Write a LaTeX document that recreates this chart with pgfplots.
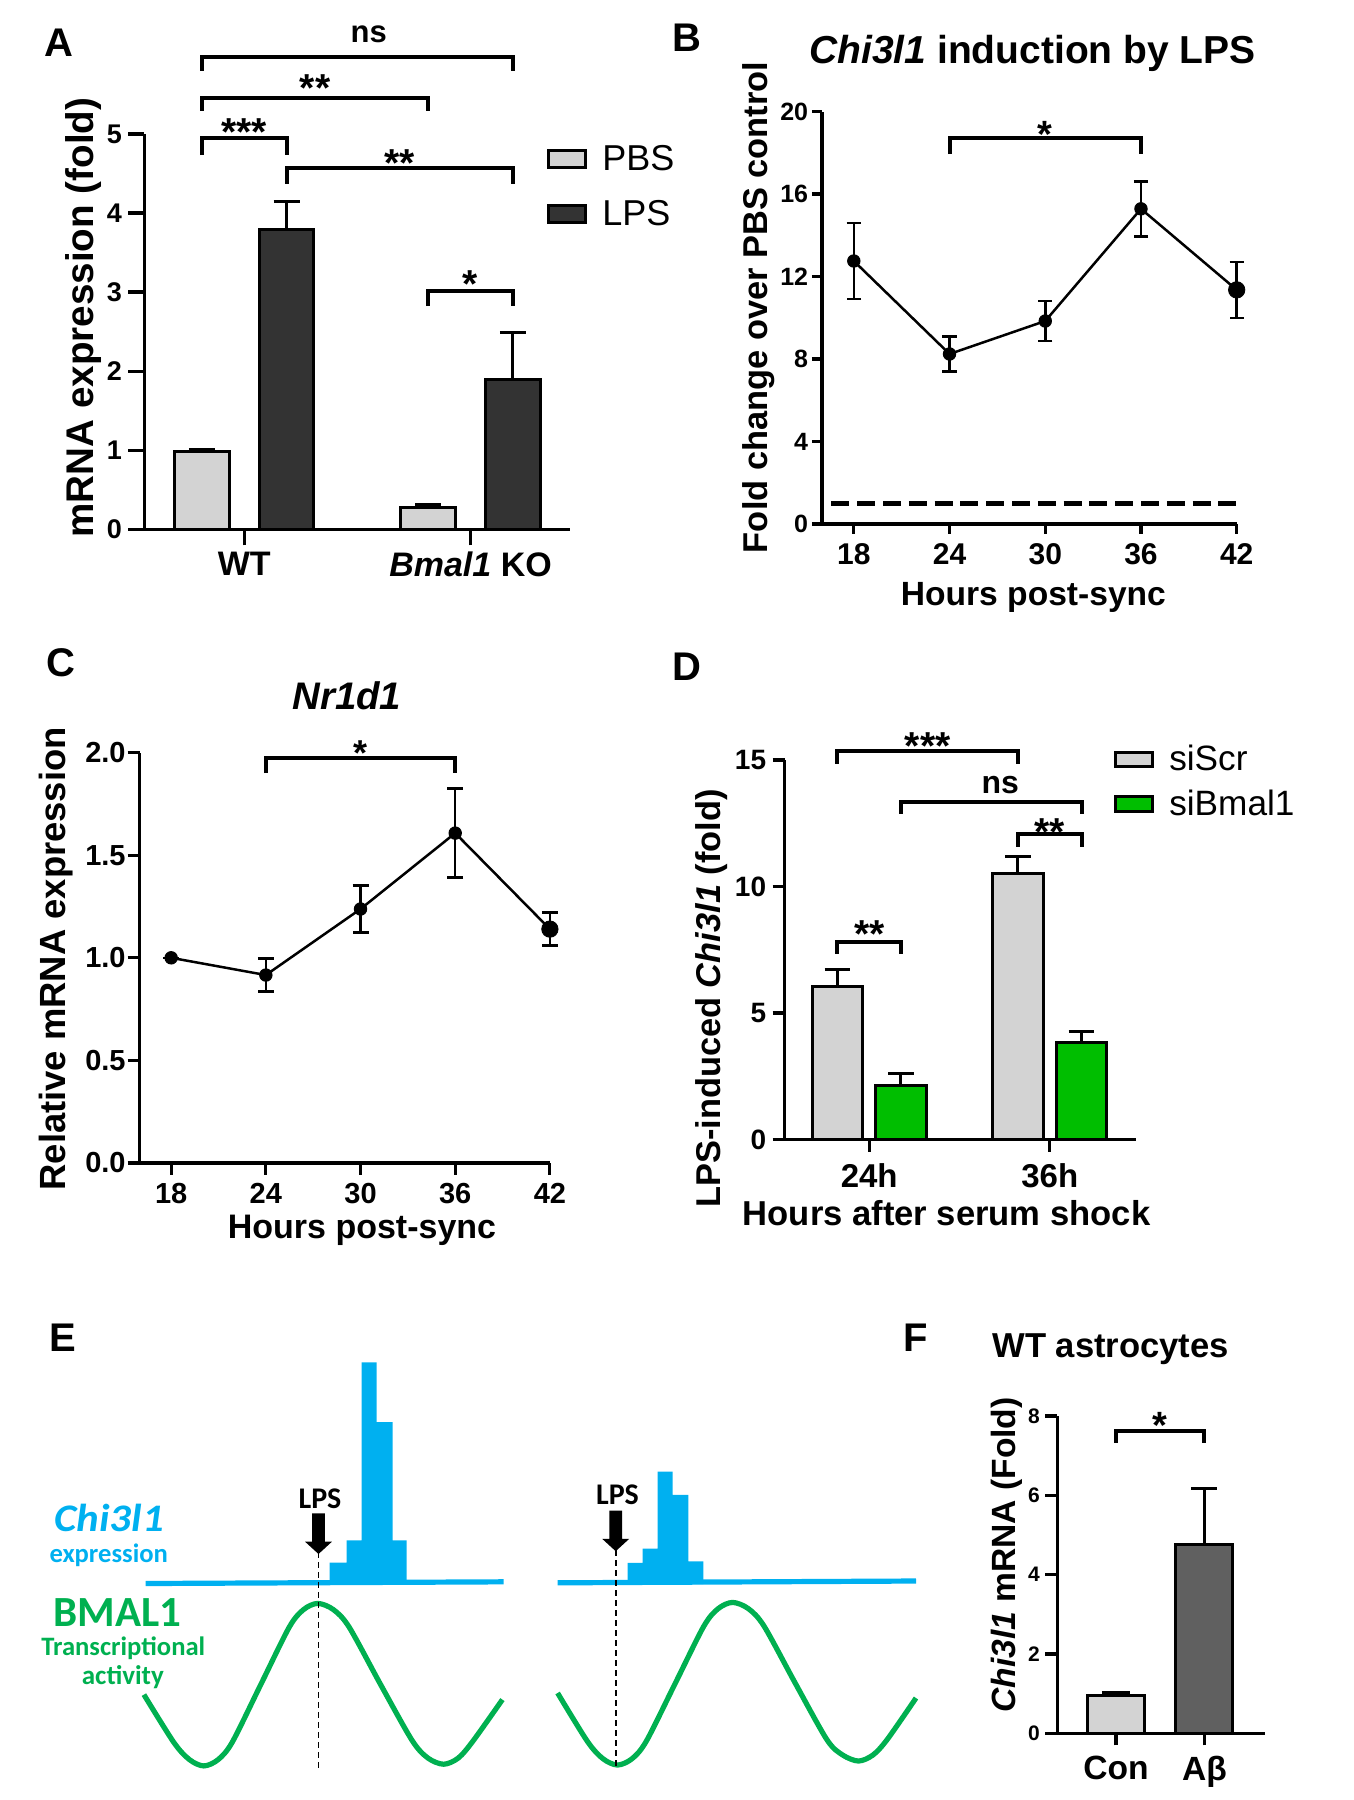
\documentclass[border=0pt]{standalone}
\usepackage{fontspec}
\setmainfont{Liberation Sans}
\newfontfamily\carlito{Carlito}
\newfontfamily\carlitoI[FakeStretch=1.1]{Carlito}
\usepackage{pgfplots}
\pgfplotsset{compat=1.18}

\definecolor{lgray}{RGB}{211,211,211}
\definecolor{dgray}{RGB}{51,51,51}
\definecolor{mgray}{RGB}{96,96,96}
\definecolor{dgreen}{RGB}{0,190,0}
\definecolor{eblue}{RGB}{0,176,240}
\definecolor{egreen}{RGB}{0,176,80}

\newcommand{\fs}[1]{\fontsize{#1}{#1}\selectfont}

\pgfplotsset{
  prism/.style={
    scale only axis, clip=false, anchor=south west,
    axis x line*=bottom, axis y line*=left,
    axis line style={line width=1.6pt},
    tick style={line width=1.6pt, black},
    tick align=outside,
    minor tick num=0,
    /pgf/number format/assume math mode=true,
  },
}
\tikzset{bracket/.style={line width=2pt, line join=miter, line cap=butt}}

\begin{document}
\begin{tikzpicture}[x=0.5pt,y=-0.5pt]
\useasboundingbox (0,0) rectangle (1354,1800);

% ---------------- Panel A ----------------
\begin{axis}[prism, at={(72.2pt,-264.65pt)}, width=212.95pt, height=197.7pt,
  xmin=-0.4417, xmax=1.441, ymin=0, ymax=5,
  xtick={0,1}, xticklabels={WT,\textit{Bmal1} KO},
  ytick={0,1,2,3,4,5},
  major tick length=8pt,
  xticklabel style={font=\bfseries\fs{17}, inner sep=3pt, anchor=north},
  yticklabel style={font=\bfseries\fs{13.5}, inner sep=3pt, anchor=east},
  legend image code/.code={\draw[#1,line width=1.5pt] (0pt,-4.25pt) rectangle (18.5pt,4.25pt);},
  ybar legend/.style={legend image code/.code={\draw[##1,line width=1.5pt] (0pt,-4.25pt) rectangle (18.5pt,4.25pt);}},
  legend cell align=left,
  legend style={at={(0.9446,0.972)}, anchor=north west, draw=none, fill=none, inner sep=0pt,
    row sep=13.2pt, column sep=7.6pt, font=\fs{18}, nodes={inner sep=0pt}},
]
\addplot[ybar, bar shift=0pt, bar width=0.241, fill=lgray, draw=black, line width=1.5pt,
  error bars/.cd, y dir=plus, y explicit, error bar style={line width=1.5pt},
  error mark options={rotate=90, line width=1.5pt, mark size=6.5pt}]
  coordinates {(-0.1875,0.98) +- (0,0.03) (0.8125,0.27) +- (0,0.04)};
\addplot[ybar, bar shift=0pt, bar width=0.241, fill=dgray, draw=black, line width=1.5pt,
  error bars/.cd, y dir=plus, y explicit, error bar style={line width=1.5pt},
  error mark options={rotate=90, line width=1.5pt, mark size=6.5pt}]
  coordinates {(0.1875,3.79) +- (0,0.35) (1.1875,1.89) +- (0,0.60)};
\legend{PBS,LPS}
\draw[bracket] (axis cs:-0.1875,5.798) -- (axis cs:-0.1875,5.967) -- (axis cs:1.1875,5.967) -- (axis cs:1.1875,5.798);
\draw[bracket] (axis cs:-0.1875,5.290) -- (axis cs:-0.1875,5.459) -- (axis cs:0.8125,5.459) -- (axis cs:0.8125,5.290);
\draw[bracket] (axis cs:-0.1875,4.733) -- (axis cs:-0.1875,4.951) -- (axis cs:0.1875,4.951) -- (axis cs:0.1875,4.733);
\draw[bracket] (axis cs:0.1875,4.370) -- (axis cs:0.1875,4.564) -- (axis cs:1.1875,4.564) -- (axis cs:1.1875,4.370);
\draw[bracket] (axis cs:0.8125,2.821) -- (axis cs:0.8125,3.015) -- (axis cs:1.1875,3.015) -- (axis cs:1.1875,2.821);
\node[anchor=base, inner sep=0pt, font=\bfseries\fs{15.5}] at (axis cs:0.55,6.161) {ns};
\node[anchor=north, inner sep=0pt, font=\bfseries\fs{19.5}] at (axis cs:0.3125,5.750) {**};
\node[anchor=north, inner sep=0pt, font=\bfseries\fs{19.5}] at (axis cs:0,5.193) {***};
\node[anchor=north, inner sep=0pt, font=\bfseries\fs{19.5}] at (axis cs:0.6875,4.805) {**};
\node[anchor=north, inner sep=0pt, font=\bfseries\fs{19.5}] at (axis cs:1.0,3.281) {*};
\end{axis}

% ---------------- Panel B ----------------
\begin{axis}[prism, at={(410.95pt,-261.95pt)}, width=207.4pt, height=206.2pt,
  xmin=16, xmax=42, ymin=0, ymax=20,
  xtick={18,24,30,36,42}, ytick={0,4,8,12,16,20},
  major tick length=5pt,
  xticklabel style={font=\bfseries\fs{15}, inner sep=4.5pt, anchor=north},
  yticklabel style={font=\bfseries\fs{12.5}, inner sep=1.7pt, anchor=east},
]
\addplot[black, line width=2.5pt, dash pattern=on 9pt off 3.9pt] coordinates {(16.6,1) (42,1)};
\addplot[black, line width=1.25pt, mark=*, mark size=3.1pt, mark options={solid, line width=0.5pt},
  error bars/.cd, y dir=both, y explicit, error bar style={line width=1.25pt},
  error mark options={rotate=90, line width=1.25pt, mark size=3.6pt}]
  coordinates {(18,12.75) +- (0,1.85) (24,8.24) +- (0,0.85) (30,9.84) +- (0,0.96) (36,15.28) +- (0,1.33) (42,11.35) +- (0,1.36)};
\addplot[black, only marks, mark=*, mark size=4.1pt] coordinates {(42,11.35)};
\draw[bracket] (axis cs:24,17.93) -- (axis cs:24,18.70) -- (axis cs:36,18.70) -- (axis cs:36,17.93);
\node[anchor=north, inner sep=0pt, font=\bfseries\fs{19}] at (axis cs:30,19.56) {*};
\end{axis}

% ---------------- Panel C ----------------
\begin{axis}[prism, at={(69.8pt,-581.45pt)}, width=205.15pt, height=205.1pt,
  xmin=16, xmax=42, ymin=0, ymax=2,
  xtick={18,24,30,36,42}, ytick={0,0.5,1,1.5,2},
  major tick length=6pt,
  xticklabel style={font=\bfseries\fs{14.5}, inner sep=4pt, anchor=north},
  yticklabel style={font=\bfseries\fs{14.5}, inner sep=0.8pt, anchor=east,
    /pgf/number format/.cd, fixed, fixed zerofill, precision=1},
]
\addplot[black, line width=1.25pt, mark=*, mark size=3.1pt, mark options={solid, line width=0.5pt},
  error bars/.cd, y dir=both, y explicit, error bar style={line width=1.25pt},
  error mark options={rotate=90, line width=1.25pt, mark size=4pt}]
  coordinates {(18,1.0) +- (0,0) (24,0.916) +- (0,0.08) (30,1.238) +- (0,0.115) (36,1.608) +- (0,0.217) (42,1.14) +- (0,0.08)};
\addplot[black, only marks, mark=*, mark size=4.1pt] coordinates {(42,1.14)};
\draw[bracket] (axis cs:24,1.901) -- (axis cs:24,1.974) -- (axis cs:36,1.974) -- (axis cs:36,1.901);
\node[anchor=north, inner sep=0pt, font=\bfseries\fs{18}] at (axis cs:30,2.06) {*};
\end{axis}

% ---------------- Panel D ----------------
\begin{axis}[prism, at={(392.25pt,-569.8pt)}, width=175.6pt, height=189.8pt,
  xmin=-0.469, xmax=1.476, ymin=0, ymax=15,
  xtick={0,1}, xticklabels={24h,36h}, ytick={0,5,10,15},
  major tick length=6pt,
  xticklabel style={font=\bfseries\fs{16.5}, inner sep=6pt, anchor=north},
  yticklabel style={font=\bfseries\fs{14}, inner sep=3pt, anchor=east},
  legend image code/.code={\draw[#1,line width=1.5pt] (0pt,-3.6pt) rectangle (18.5pt,3.6pt);},
  ybar legend/.style={legend image code/.code={\draw[##1,line width=1.5pt] (0pt,-3.6pt) rectangle (18.5pt,3.6pt);}},
  legend cell align=left,
  legend style={at={(0.9362,1.0395)}, anchor=north west, draw=none, fill=none, inner sep=0pt,
    row sep=8pt, column sep=7.8pt, font=\fs{17.6}, nodes={inner sep=0pt}},
]
\addplot[ybar, bar shift=0pt, bar width=0.281, fill=lgray, draw=black, line width=1.5pt,
  error bars/.cd, y dir=plus, y explicit, error bar style={line width=1.5pt},
  error mark options={rotate=90, line width=1.5pt, mark size=6.45pt}]
  coordinates {(-0.176,6.06) +- (0,0.65) (0.824,10.50) +- (0,0.68)};
\addplot[ybar, bar shift=0pt, bar width=0.281, fill=dgreen, draw=black, line width=1.5pt,
  error bars/.cd, y dir=plus, y explicit, error bar style={line width=1.5pt},
  error mark options={rotate=90, line width=1.5pt, mark size=6.45pt}]
  coordinates {(0.176,2.15) +- (0,0.45) (1.176,3.84) +- (0,0.43)};
\legend{siScr,siBmal1}
\draw[bracket] (axis cs:-0.176,14.85) -- (axis cs:-0.176,15.34) -- (axis cs:0.824,15.34) -- (axis cs:0.824,14.85);
\draw[bracket] (axis cs:0.176,12.87) -- (axis cs:0.176,13.35) -- (axis cs:1.176,13.35) -- (axis cs:1.176,12.87);
\draw[bracket] (axis cs:0.824,11.58) -- (axis cs:0.824,12.06) -- (axis cs:1.176,12.06) -- (axis cs:1.176,11.58);
\draw[bracket] (axis cs:-0.176,7.35) -- (axis cs:-0.176,7.79) -- (axis cs:0.176,7.79) -- (axis cs:0.176,7.35);
\node[anchor=north, inner sep=0pt, font=\bfseries\fs{19.5}] at (axis cs:0.324,16.1) {***};
\node[anchor=base, inner sep=0pt, font=\bfseries\fs{16}] at (axis cs:0.726,13.67) {ns};
\node[anchor=north, inner sep=0pt, font=\bfseries\fs{19.5}] at (axis cs:1.0,12.71) {**};
\node[anchor=north, inner sep=0pt, font=\bfseries\fs{19.5}] at (axis cs:0,8.68) {**};
\end{axis}

% ---------------- Panel F ----------------
\begin{axis}[prism, at={(528.65pt,-866.65pt)}, width=103.85pt, height=158.65pt,
  xmin=-0.663, xmax=1.684, ymin=0, ymax=8,
  xtick={0,1}, xticklabels={Con,Aβ}, ytick={0,2,4,6,8},
  major tick length=6pt,
  xticklabel style={font=\bfseries\fs{16.8}, inner sep=5pt, anchor=north},
  yticklabel style={font=\bfseries\fs{10.5}, inner sep=2.5pt, anchor=east},
]
\addplot[ybar, bar shift=0pt, bar width=0.644, fill=lgray, draw=black, line width=1.5pt,
  error bars/.cd, y dir=plus, y explicit, error bar style={line width=1.5pt},
  error mark options={rotate=90, line width=1.5pt, mark size=7pt}]
  coordinates {(0,0.966) +- (0,0.068)};
\addplot[ybar, bar shift=0pt, bar width=0.644, fill=mgray, draw=black, line width=1.5pt,
  error bars/.cd, y dir=plus, y explicit, error bar style={line width=1.5pt},
  error mark options={rotate=90, line width=1.5pt, mark size=6.5pt}]
  coordinates {(1,4.765) +- (0,1.41)};
\draw[bracket] (axis cs:0,7.33) -- (axis cs:0,7.63) -- (axis cs:1,7.63) -- (axis cs:1,7.33);
\node[anchor=north, inner sep=0pt, font=\bfseries\fs{19}] at (axis cs:0.5,8.11) {*};
\end{axis}

% ---------------- Panel E (schematic) ----------------
\begin{axis}[scale only axis, hide axis, clip=false, anchor=south west, at={(0pt,-900pt)},
  width=470pt, height=220pt, xmin=0, xmax=940, ymin=1360, ymax=1800, y dir=reverse]
\addplot[fill=eblue, draw=none] coordinates {(329.7,1584) (329.7,1562.6) (346.5,1562.6) (346.5,1540.4) (361.5,1540.4) (361.5,1362.3) (376.5,1362.3) (376.5,1422) (392.7,1422) (392.7,1540.4) (406.5,1540.4) (406.5,1584)} -- cycle;
\addplot[fill=eblue, draw=none] coordinates {(627.7,1584) (627.7,1562.9) (642.7,1562.9) (642.7,1548.7) (657.7,1548.7) (657.7,1471.7) (672.6,1471.7) (672.6,1494.9) (688.3,1494.9) (688.3,1561.3) (703.3,1561.3) (703.3,1584)} -- cycle;
\addplot[eblue, line width=2.6pt] coordinates {(145.7,1583.5) (503.6,1581.8)};
\addplot[eblue, line width=2.6pt] coordinates {(557.6,1582.8) (916,1581)};
\addplot[egreen, line width=2.6pt, smooth] coordinates {(143.9,1694.6) (173.9,1742.5) (189.6,1759.7) (203.8,1765.9) (218.0,1759.7) (232.3,1742.1) (260.75,1684.6) (289.2,1627.2) (303.5,1609.6) (317.7,1603.4) (333.4,1609.6) (349.2,1627.2) (380.65,1684.6) (412.1,1740.4) (427.9,1758) (443.6,1764.2) (458.3,1758) (473,1741) (502.4,1699.6)};
\addplot[egreen, line width=2.6pt, smooth] coordinates {(557.6,1693) (587.5,1741.5) (603.1,1758.8) (617.5,1765) (631.9,1758.8) (646.3,1741.2) (675.05,1683.7) (703.8,1626.2) (718.2,1608.6) (732.6,1602.4) (748.3,1608.6) (764.1,1626.2) (795.55,1683.7) (827,1739.8) (842.7,1755) (858.5,1761) (872.9,1755) (887.2,1739.5) (916,1698)};
\draw[black, line width=0.8pt, dash pattern=on 3pt off 2pt] (axis cs:318.5,1552) -- (axis cs:318.5,1768);
\draw[black, line width=0.8pt, dash pattern=on 3pt off 2pt] (axis cs:615.7,1550) -- (axis cs:615.7,1766);
\fill[black] (axis cs:312.1,1513.3) -- (axis cs:324.9,1513.3) -- (axis cs:324.9,1541.7) -- (axis cs:331.9,1541.7) -- (axis cs:318.5,1554) -- (axis cs:305.1,1541.7) -- (axis cs:312.1,1541.7) -- cycle;
\fill[black] (axis cs:609.3,1510.5) -- (axis cs:622.1,1510.5) -- (axis cs:622.1,1538.9) -- (axis cs:629.1,1538.9) -- (axis cs:615.7,1551.2) -- (axis cs:602.3,1538.9) -- (axis cs:609.3,1538.9) -- cycle;
\end{axis}

% ---------------- Text outside axes ----------------
\node[font=\bfseries\fs{20}, inner sep=0pt] at (58.5,43) {A};
\node[font=\bfseries\fs{20}, inner sep=0pt] at (686.8,37.6) {B};
\node[font=\bfseries\fs{20}, inner sep=0pt] at (60.7,662.9) {C};
\node[font=\bfseries\fs{20}, inner sep=0pt] at (687,667) {D};
\node[font=\bfseries\fs{20}, inner sep=0pt] at (63,1338) {E};
\node[font=\bfseries\fs{20}, inner sep=0pt] at (915.7,1338) {F};

\node[rotate=90, anchor=base, inner sep=0pt, font=\bfseries\fs{19.3}] at (93.2,317.5) {mRNA expression (fold)};
\node[rotate=90, anchor=base, inner sep=0pt, font=\bfseries\fs{17.2}] at (767,307.4) {Fold change over PBS control};
\node[rotate=90, anchor=base, inner sep=0pt, font=\bfseries\fs{18.2}] at (65,958.8) {Relative mRNA expression};
\node[rotate=90, anchor=base, inner sep=0pt, font=\bfseries\fs{17.2}] at (720.8,998.6) {LPS-induced \textit{Chi3l1} (fold)};
\node[rotate=90, anchor=base, inner sep=0pt, font=\bfseries\fs{16.8}] at (1015,1555) {\textit{Chi3l1} mRNA (Fold)};

\node[anchor=base, inner sep=0pt, font=\bfseries\fs{16.8}] at (1033.4,605) {Hours post-sync};
\node[anchor=base, inner sep=0pt, font=\bfseries\fs{17}] at (362,1238.4) {Hours post-sync};
\node[anchor=base, inner sep=0pt, font=\bfseries\fs{17.3}] at (946.6,1225) {Hours after serum shock};

\node[anchor=base, inner sep=0pt, font=\bfseries\fs{19.5}] at (1032.5,63.3) {\textit{Chi3l1} induction by LPS};
\node[anchor=base, inner sep=0pt, font=\bfseries\itshape\fs{19.2}] at (346.9,709.8) {Nr1d1};
\node[anchor=base, inner sep=0pt, font=\bfseries\fs{17.3}] at (1110.7,1357.3) {WT astrocytes};

\node[anchor=base, inner sep=0pt, text=eblue, font=\carlitoI\bfseries\itshape\fs{19.5}] at (109,1531) {Chi3l1};
\node[anchor=base, inner sep=0pt, text=eblue, font=\carlito\bfseries\fs{13.3}] at (108.7,1562) {expression};
\node[anchor=base, inner sep=0pt, text=egreen, font=\carlito\bfseries\fs{21.5}] at (117.5,1626.7) {BMAL1};
\node[anchor=base, inner sep=0pt, text=egreen, font=\carlito\bfseries\fs{13.3}] at (123.3,1655) {Transcriptional};
\node[anchor=base, inner sep=0pt, text=egreen, font=\carlito\bfseries\fs{13.5}] at (122.9,1684) {activity};
\node[anchor=base, inner sep=0pt, font=\carlito\bfseries\fs{15}] at (320,1508) {LPS};
\node[anchor=base, inner sep=0pt, font=\carlito\bfseries\fs{15}] at (617.5,1504) {LPS};
\end{tikzpicture}
\end{document}
